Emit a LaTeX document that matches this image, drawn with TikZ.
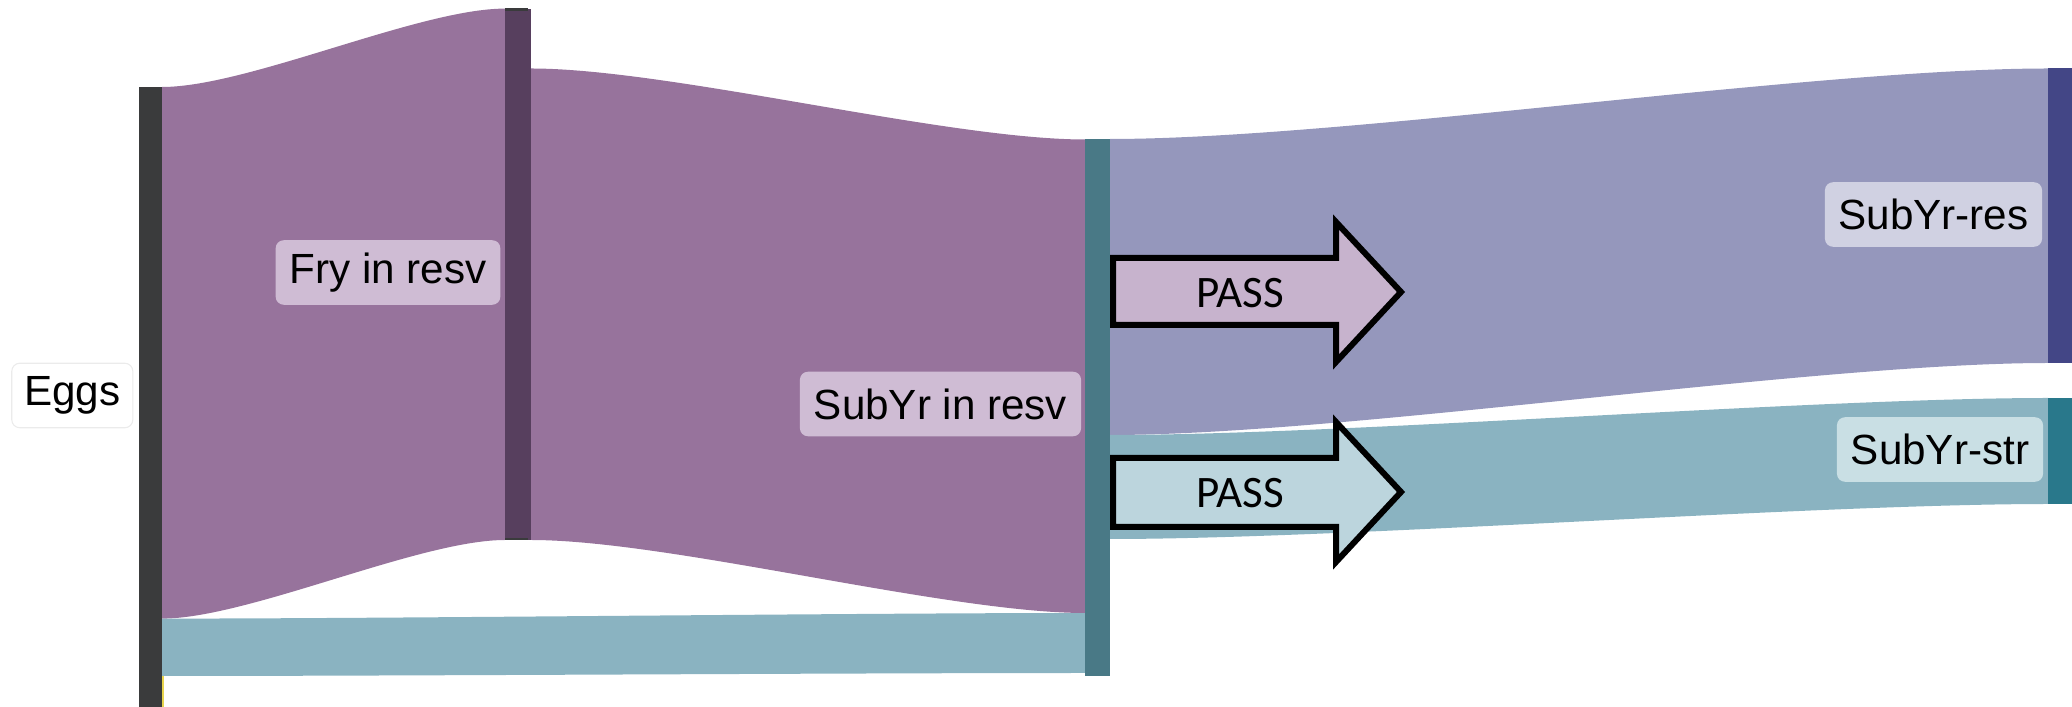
\documentclass[tikz,border=0pt]{standalone}
\usepackage{fontspec}
\setmainfont{Liberation Sans}
\newfontfamily\passfont{Carlito}
\usetikzlibrary{fit}
\definecolor{eggbar}{HTML}{3A3B3C}
\definecolor{fryflow}{HTML}{97739C}
\definecolor{frybar}{HTML}{573F5E}
\definecolor{frylab}{HTML}{CFBCD4}
\definecolor{subbar}{HTML}{497986}
\definecolor{blueflow}{HTML}{8AB3C1}
\definecolor{lavflow}{HTML}{9597BC}
\definecolor{resbar}{HTML}{434686}
\definecolor{strbar}{HTML}{29788B}
\definecolor{reslab}{HTML}{D0D1E2}
\definecolor{strlab}{HTML}{C9DFE4}
\definecolor{passA}{HTML}{C7B3CD}
\definecolor{passB}{HTML}{BCD5DD}
\definecolor{yel}{HTML}{E8D44D}
\tikzset{
  bar/.style={draw=none, inner sep=0pt, outer sep=0pt},
  lab/.style={draw=none, rounded corners=0.08cm, inner sep=0pt, minimum height=0.645cm, font=\fontsize{12}{14}\selectfont, text=black},
  passarrow/.style={draw=black, line width=0.06cm, miter limit=10},
  passtext/.style={font=\passfont\fontsize{12.8}{15}\selectfont, text=black}
}
% sankey ribbon: x0, top0, bot0, x1, top1, bot1, colour
\newcommand\sflow[7]{%
  \fill[#7] (#1,#2) .. controls ({#1+0.25*(#4-#1)},#2) and ({#4-0.25*(#4-#1)},#5) .. (#4,#5)
    -- (#4,#6) .. controls ({#4-0.25*(#4-#1)},#6) and ({#1+0.25*(#4-#1)},#3) .. (#1,#3) -- cycle;}
\begin{document}
\begin{tikzpicture}[x=0.01cm, y=-0.01cm]
\useasboundingbox (0,0) rectangle (2072,707);
% flows
\sflow{162}{87}{618.6}{505}{8.6}{540}{fryflow}
\sflow{162}{618.6}{676}{1085}{613}{673}{blueflow}
\fill[yel] (162,676) rectangle (164,707);
\sflow{531}{68.5}{540}{1085}{139.5}{613}{fryflow}
\sflow{1110}{139}{435}{2048}{68.5}{363}{lavflow}
\sflow{1110}{435}{539}{2048}{398}{504}{blueflow}
% bars
\node[bar, fill=eggbar, fit={(138.5,87) (162,707)}] (eggs) {};
\node[bar, fill=frybar, fit={(505,8.6) (531,540)}] (fry) {};
\fill[eggbar] (505,8.3) rectangle (528,11);
\fill[eggbar] (505,538) rectangle (528,540.5);
\node[bar, fill=subbar, fit={(1085,139) (1110,676)}] (sub) {};
\node[bar, fill=resbar, fit={(2048,68.5) (2072,363)}] (res) {};
\node[bar, fill=strbar, fit={(2048,398) (2072,504)}] (str) {};
% labels
\node[lab, fill=white, draw=black!8, line width=0.3pt, minimum width=1.21cm] (eggslab) at (72.3,395.5) {Eggs};
\node[lab, fill=frylab, minimum width=2.245cm] (frylabel) at (388,272.5) {Fry in resv};
\node[lab, fill=frylab, minimum width=2.81cm] (sublabel) at (940.5,404) {SubYr in resv};
\node[lab, fill=reslab, minimum width=2.17cm] (reslabel) at (1933.5,214.5) {SubYr-res};
\node[lab, fill=strlab, minimum width=2.06cm] (strlabel) at (1940,449.5) {SubYr-str};
% PASS arrows
\draw[passarrow, fill=passA] (1113,258) -- (1336,258) -- (1336,222) -- (1401,292)
  -- (1336,362) -- (1336,325) -- (1113,325) -- cycle;
\node[passtext] (pass1) at (1240,293) {PASS};
\draw[passarrow, fill=passB] (1113,458) -- (1336,458) -- (1336,422) -- (1401,492)
  -- (1336,562) -- (1336,527) -- (1113,527) -- cycle;
\node[passtext] (pass2) at (1240,493) {PASS};
\end{tikzpicture}
\end{document}
